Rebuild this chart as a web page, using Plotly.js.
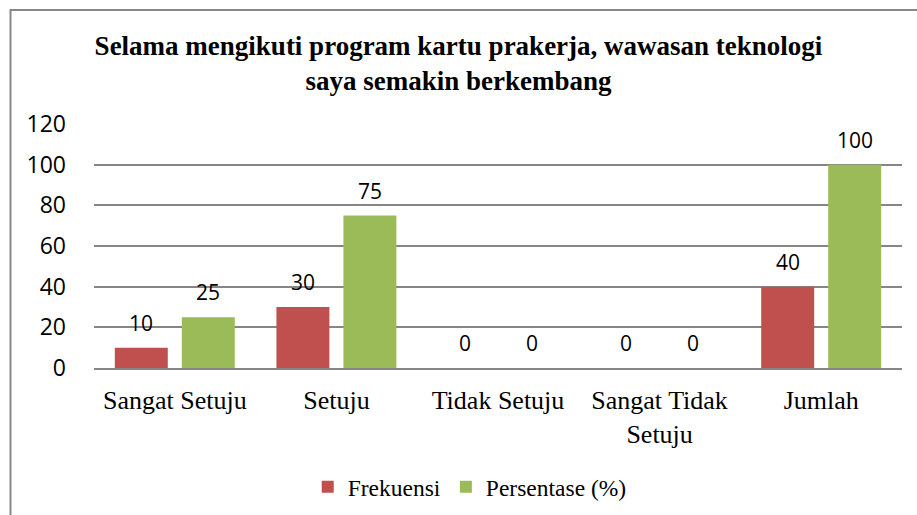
<!DOCTYPE html>
<html>
<head>
<meta charset="utf-8">
<script src="https://cdn.plot.ly/plotly-3.0.1.min.js"></script>
<style>html,body{margin:0;padding:0;background:#fff;}#chart{width:917px;height:515px;}</style>
</head>
<body>
<div id="chart"></div>
<script>
const categories = ["Sangat Setuju", "Setuju", "Tidak Setuju", "Sangat Tidak<br>Setuju", "Jumlah"];
const frekuensi = [10, 30, 0, 0, 40];
const persentase = [25, 75, 0, 0, 100];
const seriesNames = ["Frekuensi", "Persentase (%)"];
const yTicks = [0, 20, 40, 60, 80, 100, 120];
const titleText = "Selama mengikuti program kartu prakerja, wawasan teknologi<br>saya semakin berkembang";

const red = "#C0504D", green = "#9BBB59";
const labelFont = {family: "Open Sans, Liberation Sans, sans-serif", size: 21, color: "#000"};
const serif = "Liberation Serif, Times New Roman, serif";

const traces = [
  {type: "bar", name: seriesNames[0], x: categories, y: frekuensi, marker: {color: red}, hoverinfo: "none"},
  {type: "bar", name: seriesNames[1], x: categories, y: persentase, marker: {color: green}, hoverinfo: "none"}
];

const annotations = [];
[frekuensi, persentase].forEach((vals, s) => {
  vals.forEach((v, i) => {
    annotations.push({
      x: categories[i], y: v, xref: "x", yref: "y",
      text: String(v), showarrow: false,
      xshift: s === 0 ? -33.5 : 33.5, yshift: 9,
      yanchor: "bottom", font: labelFont
    });
  });
});

const layout = {
  width: 917, height: 515,
  margin: {l: 94, r: 15, t: 124, b: 147, autoexpand: false},
  paper_bgcolor: "#fff", plot_bgcolor: "#fff",
  barmode: "group", bargap: 0.171, bargroupgap: 0.209,
  title: {
    text: titleText, x: 0.5, xanchor: "center",
    yref: "container", y: 1 - 55/515, yanchor: "middle",
    font: {family: serif, size: 27, color: "#000", weight: "bold"}
  },
  xaxis: {
    type: "category", showgrid: false, zeroline: false,
    showline: true, linecolor: "#868686", linewidth: 2,
    ticks: "", tickfont: {family: serif, size: 26, color: "#000"},
    ticklabelstandoff: 8, fixedrange: true, automargin: false
  },
  yaxis: {
    range: [0, 120], tickvals: yTicks, ticktext: yTicks.map(String),
    showgrid: true, gridcolor: "#868686", gridwidth: 2,
    zeroline: false, showline: false, ticks: "",
    tickfont: {family: "Open Sans, Liberation Sans, sans-serif", size: 23, color: "#000"},
    ticklabelstandoff: 27, fixedrange: true, automargin: false
  },
  showlegend: true,
  legend: {
    orientation: "h", x: 0.465, xanchor: "center",
    yref: "container", y: 1 - 487 / 515, yanchor: "middle",
    font: {family: serif, size: 23.5, color: "#000"}, traceorder: "normal",
    itemwidth: 30, itemsizing: "constant"
  },
  annotations: annotations,
  shapes: [{
    type: "rect", xref: "paper", yref: "paper",
    x0: (10.5 - 94) / 808, x1: 1.1, y0: -0.7, y1: (368 - 10) / 244,
    line: {color: "#888", width: 2}, fillcolor: "rgba(0,0,0,0)", layer: "below"
  }]
};

Plotly.newPlot("chart", traces, layout, {displayModeBar: false, staticPlot: true});
</script>
</body>
</html>
